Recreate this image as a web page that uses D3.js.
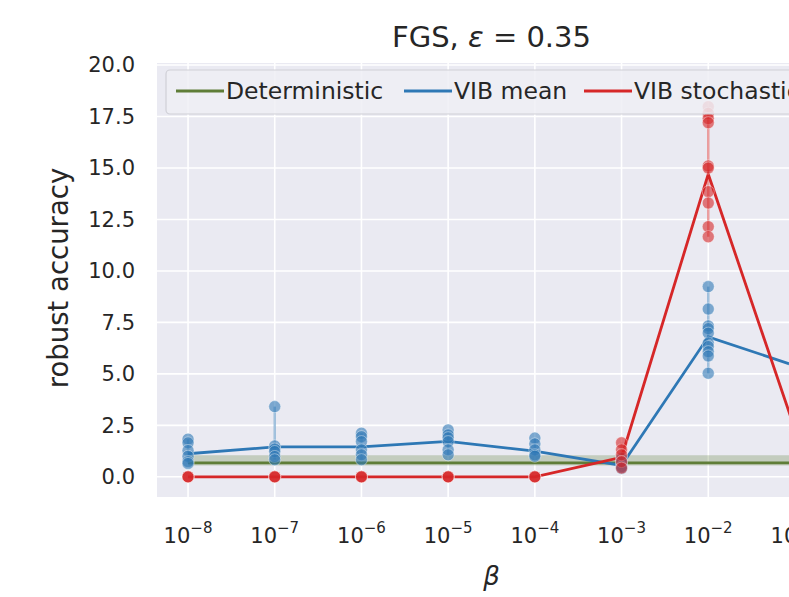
<!DOCTYPE html>
<html>
<head>
<meta charset="utf-8">
<script src="https://cdn.jsdelivr.net/npm/d3@7"></script>
<style>
  body { margin: 0; background: #fff; }
  text { font-family: "DejaVu Sans", sans-serif; fill: #262626; }
</style>
</head>
<body>
<script>
// beta values (exponents of 10)
const betaExp = [-8, -7, -6, -5, -4, -3, -2, -1];
const yTicks = [0, 2.5, 5, 7.5, 10, 12.5, 15, 17.5, 20];

// mean lines
const detMean = [0.68, 0.68, 0.68, 0.68, 0.68, 0.68, 0.68, 0.68];
const detLo = [0.55, 0.55, 0.55, 0.55, 0.55, 0.55, 0.55, 0.55];
const detHi = [1.05, 1.05, 1.05, 1.05, 1.05, 1.05, 1.05, 1.05];
const vibMean = [1.12, 1.45, 1.45, 1.72, 1.25, 0.55, 6.8, 5.4];
const vibStoch = [0, 0, 0, 0, 0, 0.95, 14.7, 2.3];

// individual runs
const vibMeanRuns = [
  [1.83, 1.65, 1.28, 1.0, 0.74, 0.65],
  [3.41, 1.5, 1.35, 1.23, 0.99, 0.83],
  [2.12, 1.95, 1.71, 1.31, 1.07, 0.83],
  [2.28, 2.04, 1.9, 1.71, 1.31, 1.07],
  [1.88, 1.6, 1.31, 1.07, 1.0],
  [0.9, 0.7, 0.5, 0.4],
  [9.24, 8.15, 7.33, 7.2, 6.98, 6.5, 6.33, 6.08, 5.87, 5.03],
  [5.4]
];
const vibStochRuns = [
  [0, 0, 0],
  [0, 0, 0],
  [0, 0, 0],
  [0, 0, 0],
  [0, 0, 0],
  [1.65, 1.31, 1.07, 0.74, 0.43],
  [17.98, 17.66, 17.4, 17.2, 15.1, 15.0, 13.85, 13.3, 12.15, 11.66],
  [2.3]
];

const W = 789, H = 597;
const pLeft = 157, pRight = 826, pTop = 63, pBottom = 497;
const green = "#5f7d38", blue = "#2e78b5", red = "#d62728";

const svg = d3.select("body").append("svg")
  .attr("width", W).attr("height", H);

const x = d3.scaleLog()
  .domain([Math.pow(10, -8.358), Math.pow(10, -0.642)])
  .range([pLeft, pRight]);
const y = d3.scaleLinear().domain([-0.98, 20.1]).range([pBottom, pTop]);

const betas = betaExp.map(e => Math.pow(10, e));

// background
svg.append("rect")
  .attr("x", pLeft).attr("y", pTop)
  .attr("width", pRight - pLeft).attr("height", pBottom - pTop)
  .attr("fill", "#eaeaf2");

// grid
svg.append("g").selectAll("line").data(yTicks).join("line")
  .attr("x1", pLeft).attr("x2", pRight)
  .attr("y1", d => y(d)).attr("y2", d => y(d))
  .attr("stroke", "#fff").attr("stroke-width", 1.6);
svg.append("g").selectAll("line").data(betas).join("line")
  .attr("x1", d => x(d)).attr("x2", d => x(d))
  .attr("y1", pTop).attr("y2", pBottom)
  .attr("stroke", "#fff").attr("stroke-width", 1.6);

// y tick labels
svg.append("g").selectAll("text").data(yTicks).join("text")
  .attr("x", 135).attr("y", d => y(d)).attr("dy", "0.35em")
  .attr("text-anchor", "end").attr("font-size", 21)
  .text(d => d.toFixed(1));

// x tick labels
const xt = svg.append("g").selectAll("text").data(betaExp).join("text")
  .attr("x", d => x(Math.pow(10, d))).attr("y", 543)
  .attr("text-anchor", "middle").attr("font-size", 21);
xt.append("tspan").text("10");
xt.append("tspan").attr("font-size", 15).attr("dy", -10)
  .text(d => "\u2212" + Math.abs(d));

// axis labels
svg.append("text")
  .attr("transform", `translate(68,${(pTop + pBottom) / 2 - 2}) rotate(-90)`)
  .attr("text-anchor", "middle").attr("font-size", 27.5)
  .text("robust accuracy");
svg.append("text")
  .attr("x", (pLeft + pRight) / 2).attr("y", 585)
  .attr("text-anchor", "middle").attr("font-size", 26)
  .attr("font-style", "italic").text("\u03b2");

// title
const title = svg.append("text")
  .attr("x", (pLeft + pRight) / 2).attr("y", 47)
  .attr("text-anchor", "middle").attr("font-size", 29);
title.append("tspan").text("FGS, ");
title.append("tspan").attr("font-style", "italic").text("\u03b5");
title.append("tspan").text(" = 0.35");

// deterministic band + line
svg.append("path")
  .datum(betas.map((b, i) => ({ b, lo: detLo[i], hi: detHi[i] })))
  .attr("d", d3.area().x(d => x(d.b)).y0(d => y(d.lo)).y1(d => y(d.hi)))
  .attr("fill", green).attr("fill-opacity", 0.28);

const line = d3.line().x(d => x(d.b)).y(d => y(d.v));
function series(vals, color) {
  svg.append("path")
    .datum(betas.map((b, i) => ({ b, v: vals[i] })))
    .attr("d", line)
    .attr("fill", "none").attr("stroke", color).attr("stroke-width", 2.8);
}
series(detMean, green);

// min-max bars
function bars(runs, color) {
  svg.append("g").selectAll("line").data(runs.map((r, i) => ({ b: betas[i], r })))
    .join("line")
    .attr("x1", d => x(d.b)).attr("x2", d => x(d.b))
    .attr("y1", d => y(d3.min(d.r))).attr("y2", d => y(d3.max(d.r)))
    .attr("stroke", color).attr("stroke-opacity", 0.45).attr("stroke-width", 2.4);
}
bars(vibMeanRuns, blue);
bars(vibStochRuns, red);

series(vibMean, blue);
series(vibStoch, red);

function points(runs, color) {
  const pts = runs.flatMap((r, i) => r.map(v => ({ b: betas[i], v })));
  svg.append("g").selectAll("circle").data(pts).join("circle")
    .attr("cx", d => x(d.b)).attr("cy", d => y(d.v)).attr("r", 6)
    .attr("fill", color).attr("fill-opacity", 0.6)
    .attr("stroke", "#fff").attr("stroke-opacity", 0.5).attr("stroke-width", 0.8);
}
points(vibMeanRuns, blue);
points(vibStochRuns, red);

// legend
const lg = svg.append("g");
lg.append("rect")
  .attr("x", 166).attr("y", 70).attr("width", 650).attr("height", 44)
  .attr("rx", 4)
  .attr("fill", "#eeeef4").attr("fill-opacity", 0.85)
  .attr("stroke", "#cfcfd6").attr("stroke-width", 1.2);
const legendItems = ["Deterministic", "VIB mean", "VIB stochastic"];
const legendColors = [green, blue, red];
const legendX = [176, 404, 584];
legendItems.forEach((name, i) => {
  lg.append("line")
    .attr("x1", legendX[i]).attr("x2", legendX[i] + 48)
    .attr("y1", 91).attr("y2", 91)
    .attr("stroke", legendColors[i]).attr("stroke-width", 2.8);
  lg.append("text")
    .attr("x", legendX[i] + 50).attr("y", 99).attr("font-size", 23.5)
    .text(name);
});
</script>
</body>
</html>
